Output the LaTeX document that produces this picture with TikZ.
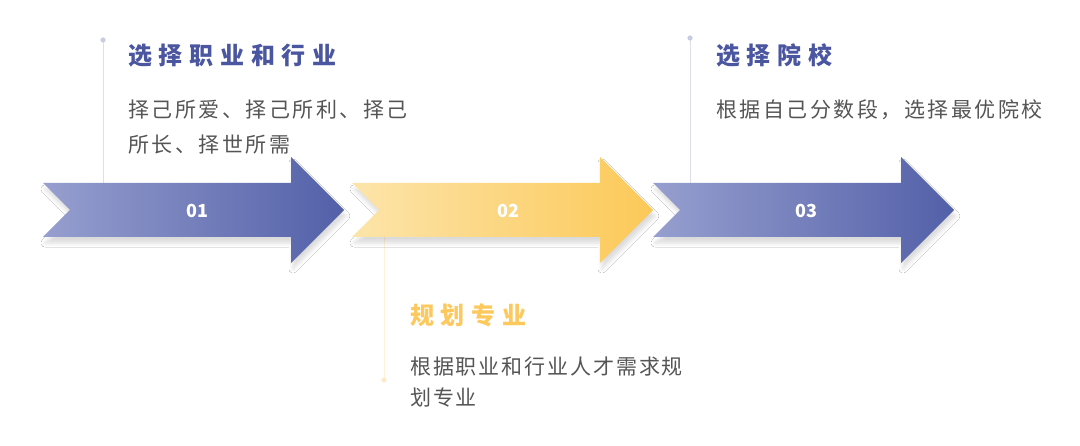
\documentclass[tikz,border=0pt]{standalone}
\usepackage{fontspec}
\newfontfamily\cjk{Noto Sans CJK SC}
\newfontfamily\cjkt[LetterSpace=28]{Noto Sans CJK SC}
\newfontfamily\cjkb[LetterSpace=12]{Noto Sans CJK SC}
\newfontfamily\cjkc[LetterSpace=9]{Noto Sans CJK SC}
\usetikzlibrary{shadows.blur}
\definecolor{blueL}{HTML}{979FCF}
\definecolor{blueD}{HTML}{5260A8}
\definecolor{yelL}{HTML}{FCE4AA}
\definecolor{yelD}{HTML}{FCC958}
\definecolor{titleblue}{HTML}{4B56A0}
\definecolor{titleyel}{HTML}{FDC85C}
\definecolor{bodygray}{HTML}{555555}
\definecolor{lineblue}{HTML}{DDDEEE}
\definecolor{dotblue}{HTML}{C8CBE4}
\definecolor{lineyel}{HTML}{FEF2D8}
\definecolor{dotyel}{HTML}{FDEACB}
\tikzset{
  arrowshape/.style={blur shadow={shadow xshift=2pt,shadow yshift=-6pt,shadow blur radius=4pt,shadow opacity=14}},
  bluearrow/.style={arrowshape,left color=blueL,right color=blueD},
  yelarrow/.style={arrowshape,left color=yelL,right color=yelD},
  numlabel/.style={text=white,font=\cjk\bfseries\fontsize{18}{20}\selectfont,inner sep=0pt},
  titletext/.style={font=\cjkt\bfseries\fontsize{24}{28}\selectfont,inner sep=0pt,anchor=base west},
  bodytext/.style={font=\cjkb\fontsize{21}{35}\selectfont,text=bodygray,inner sep=0pt,anchor=base west,align=left},
  guide/.style={line width=1pt},
}
\begin{document}
\begin{tikzpicture}[x=1pt,y=-1pt]
\useasboundingbox (0,0) rectangle (1080,446);
\fill[white] (0,0) rectangle (1080,446);

% guide lines (behind arrows)
\coordinate (d1) at (103,40);
\coordinate (a1) at (103,184);
\coordinate (d2) at (384,380);
\coordinate (a2) at (384,236);
\coordinate (d3) at (690,38);
\coordinate (a3) at (690,184);
\draw[guide,lineblue] (d1) -- (a1);
\fill[dotblue] (d1) circle (2.6);
\draw[guide,lineyel] (a2) -- (d2);
\fill[dotyel] (d2) circle (2.6);
\draw[guide,lineblue] (d3) -- (a3);
\fill[dotblue] (d3) circle (2.6);

% arrows
\path[bluearrow,shift={(43,0)}] (0,183) -- (248,183) -- (248,157) -- (301,210) -- (248,263) -- (248,237) -- (0,237) -- (27,210) -- cycle;
\path[yelarrow,shift={(352,0)}] (0,183) -- (248,183) -- (248,157) -- (301,210) -- (248,263) -- (248,237) -- (0,237) -- (27,210) -- cycle;
\path[bluearrow,shift={(653,0)}] (0,183) -- (248,183) -- (248,157) -- (301,210) -- (248,263) -- (248,237) -- (0,237) -- (27,210) -- cycle;

\node[numlabel] (n1) at (197,211) {01};
\node[numlabel] (n2) at (508,211) {02};
\node[numlabel] (n3) at (806,211) {03};

% texts (base anchor = baseline of the last line)
\node[titletext,text=titleblue] (t1) at (128,65) {选择职业和行业};
\node[bodytext] (b1) at (128,153) {择己所爱、择己所利、择己\\所长、择世所需};
\node[titletext,text=titleyel] (t2) at (410,325) {规划专业};
\node[bodytext,font=\cjkc\fontsize{21}{31.5}\selectfont] (b2) at (410,406) {根据职业和行业人才需求规\\划专业};
\node[titletext,text=titleblue] (t3) at (716,65) {选择院校};
\node[bodytext] (b3) at (716,118) {根据自己分数段，选择最优院校};
\end{tikzpicture}
\end{document}
